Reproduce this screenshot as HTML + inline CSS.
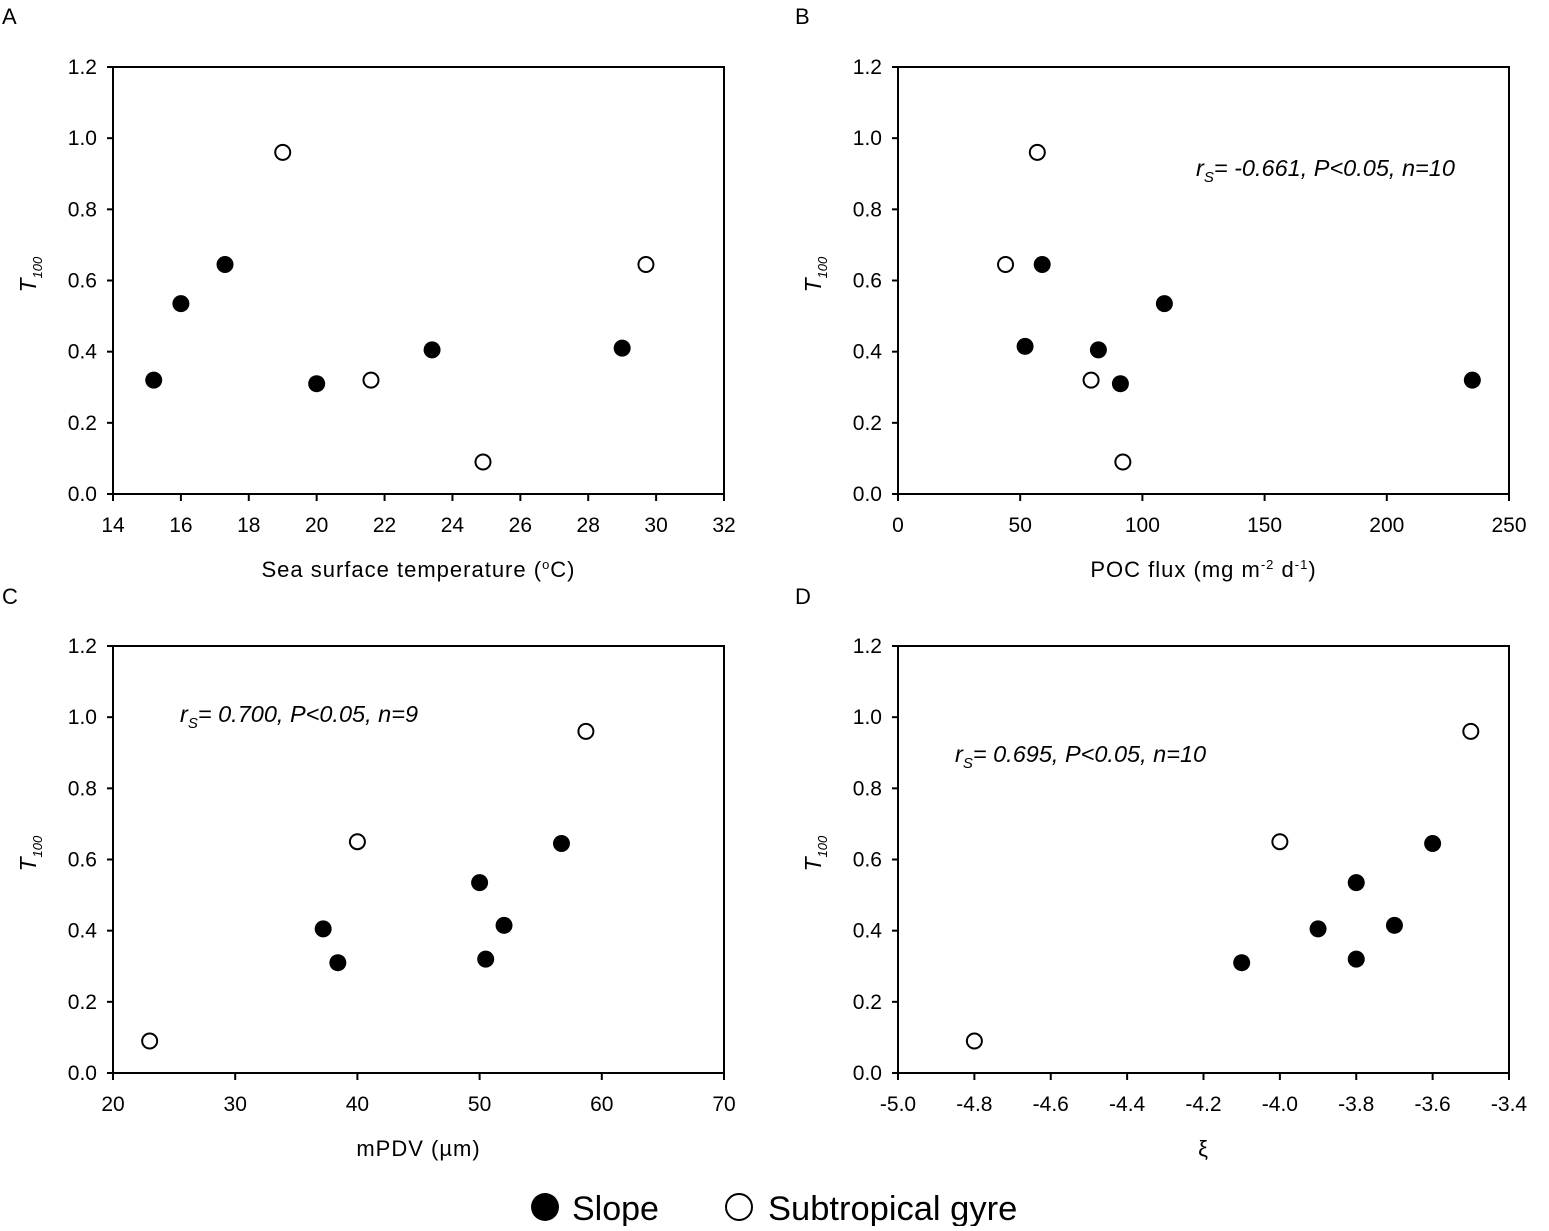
<!DOCTYPE html>
<html><head><meta charset="utf-8"><style>
body{margin:0;background:#fff;width:1549px;height:1226px;overflow:hidden}
svg{font-family:"Liberation Sans",sans-serif}
</style></head><body>
<svg id="fig" width="1549" height="1226" xmlns="http://www.w3.org/2000/svg"></svg>
<script>
const yTicks=[0,0.2,0.4,0.6,0.8,1.0,1.2];
const aTicks=[14,16,18,20,22,24,26,28,30,32];
const aSlopeX=[15.2,16,17.3,20,23.4,29];
const aSlopeY=[0.32,0.535,0.645,0.31,0.405,0.41];
const aGyreX=[19,21.6,24.9,29.7];
const aGyreY=[0.96,0.32,0.09,0.645];
const bTicks=[0,50,100,150,200,250];
const bSlopeX=[59,52,82,91,109,235];
const bSlopeY=[0.645,0.415,0.405,0.31,0.535,0.32];
const bGyreX=[57,44,79,92];
const bGyreY=[0.96,0.645,0.32,0.09];
const cTicks=[20,30,40,50,60,70];
const cSlopeX=[37.2,38.4,50,50.5,52,56.7];
const cSlopeY=[0.405,0.31,0.535,0.32,0.415,0.645];
const cGyreX=[23,40,58.7];
const cGyreY=[0.09,0.65,0.96];
const dTicks=[-5.0,-4.8,-4.6,-4.4,-4.2,-4.0,-3.8,-3.6,-3.4];
const dSlopeX=[-4.1,-3.9,-3.8,-3.8,-3.7,-3.6];
const dSlopeY=[0.31,0.405,0.535,0.32,0.415,0.645];
const dGyreX=[-4.8,-4.0,-3.5];
const dGyreY=[0.09,0.65,0.96];

const NS="http://www.w3.org/2000/svg";
const svg=document.getElementById('fig');
function el(tag,attrs,parent,text){const e=document.createElementNS(NS,tag);for(const k in attrs)e.setAttribute(k,attrs[k]);if(text!==undefined)e.textContent=text;(parent||svg).appendChild(e);return e;}

function panel(id,letter,lx,ly,x0,y0,xt,dec,xlabelFn,sx,sy,gx,gy,annot){
  const L=x0,R=x0+611,T=y0,B=y0+427;
  const g=el('g',{});
  
  
  const xmin=xt[0],xmax=xt[xt.length-1];
  const X=v=>L+(v-xmin)/(xmax-xmin)*(R-L);
  const Y=v=>B-v/1.2*(B-T);
  const lt=el('text',{x:lx,y:ly,'font-size':22},g,letter);
  
  const fr=el('rect',{x:L,y:T,width:R-L,height:B-T,fill:'none',stroke:'#000','stroke-width':2},g);
  
  yTicks.forEach(v=>{
    el('line',{x1:L-6,x2:L,y1:Y(v),y2:Y(v),stroke:'#000','stroke-width':2},g);
    const t=el('text',{x:L-16,y:Y(v)+7,'font-size':21,'text-anchor':'end'},g,v.toFixed(1));
    
  });
  xt.forEach(v=>{
    el('line',{x1:X(v),x2:X(v),y1:B,y2:B+7,stroke:'#000','stroke-width':2},g);
    const t=el('text',{x:X(v),y:B+38,'font-size':21,'text-anchor':'middle'},g,v.toFixed(dec));
    
  });
  const yl=el('text',{transform:`translate(${L-77},${(T+B)/2+12}) rotate(-90)`,'font-size':23,'font-style':'italic'},g);
  
  el('tspan',{},yl,'T');el('tspan',{dy:6,'font-size':13},yl,'100');
  const xl=el('text',{x:(L+R)/2,y:B+83,'font-size':22,'letter-spacing':1,'text-anchor':'middle'},g);
  
  xlabelFn(xl);
  if(annot){
    const a=el('text',{x:annot[0],y:annot[1],'font-size':23.5,'font-style':'italic'},g);
    
    el('tspan',{},a,'r');el('tspan',{dy:6,'font-size':15},a,'S');el('tspan',{dy:-6},a,annot[2]);
  }
  sx.forEach((v,i)=>{const c=el('circle',{cx:X(v),cy:Y(sy[i]),r:8.5,fill:'#000'},g);
    });
  gx.forEach((v,i)=>{const c=el('circle',{cx:X(v),cy:Y(gy[i]),r:7.5,fill:'#fff',stroke:'#000','stroke-width':2},g);
    });
}
panel('a','A',2,24,113,67,aTicks,0,t=>{el('tspan',{},t,'Sea surface temperature (');el('tspan',{dy:-8,'font-size':13},t,'o');el('tspan',{dy:8},t,'C)');},aSlopeX,aSlopeY,aGyreX,aGyreY,null);
panel('b','B',795,24,898,67,bTicks,0,t=>{el('tspan',{},t,'POC flux (mg m');el('tspan',{dy:-8,'font-size':13},t,'-2');el('tspan',{dy:8},t,' d');el('tspan',{dy:-8,'font-size':13},t,'-1');el('tspan',{dy:8},t,')');},bSlopeX,bSlopeY,bGyreX,bGyreY,[1196,176,'= -0.661, P<0.05, n=10']);
panel('c','C',2,604,113,646,cTicks,0,t=>{t.textContent='mPDV (µm)';},cSlopeX,cSlopeY,cGyreX,cGyreY,[180,722,'= 0.700, P<0.05, n=9']);
panel('d','D',795,604,898,646,dTicks,1,t=>{t.textContent='ξ';},dSlopeX,dSlopeY,dGyreX,dGyreY,[955,762,'= 0.695, P<0.05, n=10']);

const lg=el('g',{});


const c1=el('circle',{cx:545,cy:1207,r:14,fill:'#000'},lg);

const t1=el('text',{x:572,y:1220,'font-size':34},lg,'Slope');

const c2=el('circle',{cx:739,cy:1207,r:13,fill:'#fff',stroke:'#000','stroke-width':2},lg);

const t2=el('text',{x:768,y:1220,'font-size':34.5},lg,'Subtropical gyre');

</script>
</body></html>
